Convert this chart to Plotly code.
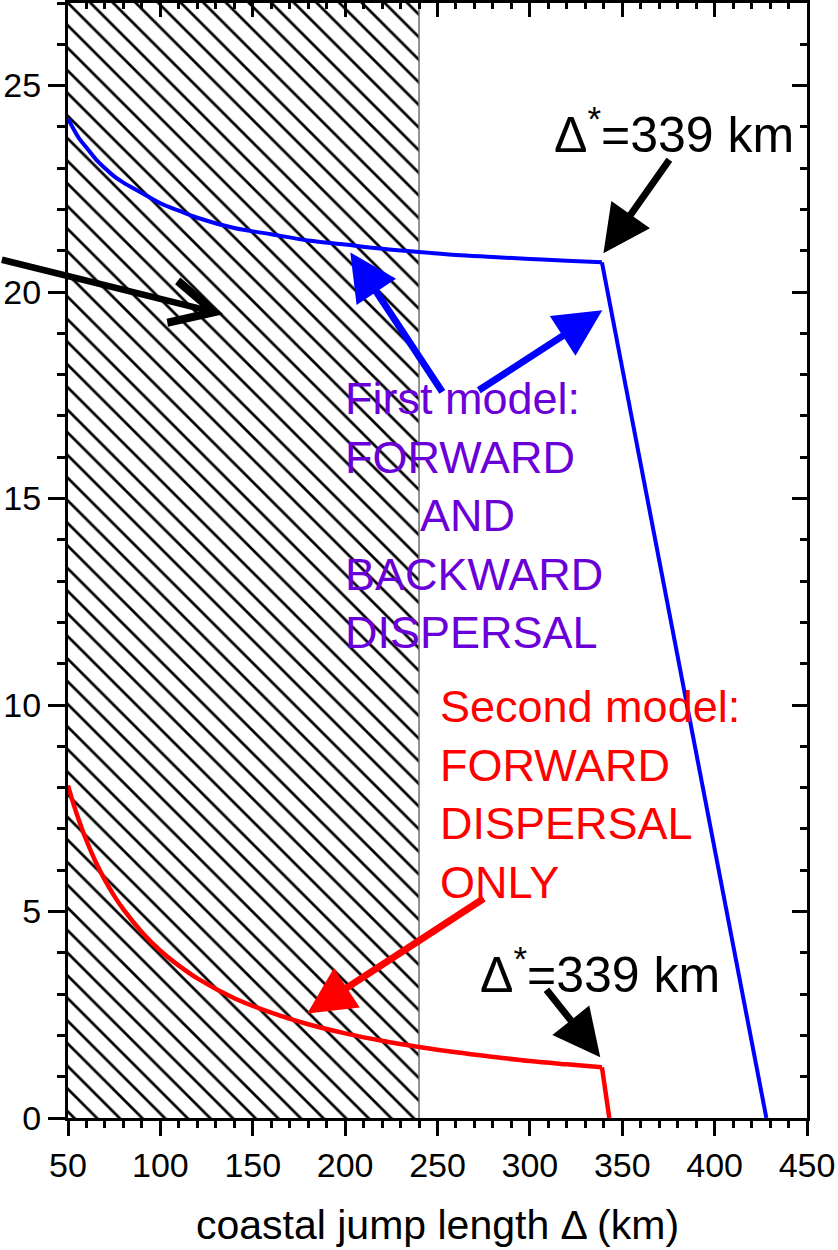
import plotly.graph_objects as go

# ---- data ----
blue_x = [50, 53, 56, 60, 65, 70, 75, 80, 90, 100, 110, 120, 140, 160, 180, 200, 220, 240, 260, 280, 300, 320, 339, 428]
blue_y = [24.2, 23.95, 23.72, 23.5, 23.22, 23.0, 22.8, 22.65, 22.4, 22.15, 21.97, 21.8, 21.55, 21.4, 21.25, 21.15,
          21.05, 20.97, 20.9, 20.85, 20.8, 20.76, 20.72, 0.0]
red_x = [50, 53, 56, 60, 65, 70, 75, 80, 90, 100, 110, 120, 140, 160, 180, 200, 220, 240, 260, 280, 300, 320, 339, 343]
red_y = [8.05, 7.6, 7.2, 6.72, 6.2, 5.76, 5.38, 5.05, 4.5, 4.05, 3.69, 3.38, 2.9, 2.55, 2.27, 2.05, 1.87, 1.72,
         1.59, 1.48, 1.38, 1.3, 1.23, 0.0]
hatch_x = [50, 240]          # excluded (hatched) range of jump lengths
y_top = 27
x_ticks = [50, 100, 150, 200, 250, 300, 350, 400, 450]
y_ticks = [0, 5, 10, 15, 20, 25]

FONT = "Arial, 'Liberation Sans', sans-serif"

fig = go.Figure()

# hatched region
fig.add_trace(go.Scatter(
    x=[hatch_x[0], hatch_x[1], hatch_x[1], hatch_x[0], hatch_x[0]],
    y=[0, 0, y_top, y_top, 0],
    fill="toself", fillcolor="white", mode="lines", line=dict(width=0),
    fillpattern=dict(shape="\\", size=16, solidity=0.17, fgcolor="black", fgopacity=1, bgcolor="white"),
    hoverinfo="skip", showlegend=False))
fig.add_trace(go.Scatter(x=[hatch_x[1], hatch_x[1]], y=[0, y_top], mode="lines",
                         line=dict(color="#707070", width=1.5), showlegend=False, hoverinfo="skip"))

# curves: smooth part + straight drop
fig.add_trace(go.Scatter(x=blue_x[:-1], y=blue_y[:-1], mode="lines", line=dict(color="#0000FF", width=4, shape="spline"),
                         showlegend=False))
fig.add_trace(go.Scatter(x=blue_x[-2:], y=blue_y[-2:], mode="lines", line=dict(color="#0000FF", width=4),
                         showlegend=False))
fig.add_trace(go.Scatter(x=red_x[:-1], y=red_y[:-1], mode="lines", line=dict(color="#FF0000", width=4.5, shape="spline"),
                         showlegend=False))
fig.add_trace(go.Scatter(x=red_x[-2:], y=red_y[-2:], mode="lines", line=dict(color="#FF0000", width=4.5),
                         showlegend=False))
# invisible trace for mirrored axes
fig.add_trace(go.Scatter(x=[x_ticks[0]], y=[0], xaxis="x2", yaxis="y2", mode="markers",
                         marker=dict(opacity=0), showlegend=False, hoverinfo="skip"))

axis_common = dict(showgrid=False, zeroline=False, showline=True, linecolor="black", linewidth=3,
                   tickcolor="black", tickwidth=3)

fig.update_layout(
    width=838, height=1250,
    margin=dict(l=68, r=31, t=3, b=132),
    paper_bgcolor="white", plot_bgcolor="white",
    font=dict(family=FONT, color="black"),
    xaxis=dict(range=[50, 450], tickvals=x_ticks, ticks="outside", ticklen=15,
               tickfont=dict(size=34),
               minor=dict(dtick=10, tick0=50, ticks="outside", ticklen=7, tickwidth=2.5, tickcolor="black"),
               title=dict(text="coastal jump length Δ (km)", font=dict(size=41), standoff=28),
               **axis_common),
    yaxis=dict(range=[0, y_top], tickvals=y_ticks, ticks="outside", ticklen=17,
               tickfont=dict(size=34),
               minor=dict(dtick=1, tick0=0, ticks="outside", ticklen=8, tickwidth=2.5, tickcolor="black"),
               **axis_common),
    xaxis2=dict(range=[50, 450], overlaying="x", side="top", tickvals=x_ticks, ticks="inside",
                ticklen=14, showticklabels=False,
                minor=dict(dtick=10, tick0=50, ticks="inside", ticklen=6, tickwidth=2.5, tickcolor="black"),
                **axis_common),
    yaxis2=dict(range=[0, y_top], overlaying="y", side="right", tickvals=y_ticks, ticks="inside",
                ticklen=15, showticklabels=False,
                minor=dict(dtick=1, tick0=0, ticks="inside", ticklen=7, tickwidth=2.5, tickcolor="black"),
                **axis_common),
)

# text labels
fig.add_annotation(x=199, y=14.6, xref="x", yref="y", xanchor="left", yanchor="middle",
                   align="left", showarrow=False,
                   text="First model:<br>FORWARD<br>" + "\u00a0" * 6 + "AND<br>BACKWARD<br>DISPERSAL",
                   font=dict(size=45, color="#6A00D8", family=FONT))
fig.add_annotation(x=250, y=7.83, xref="x", yref="y", xanchor="left", yanchor="middle",
                   align="left", showarrow=False,
                   text="Second model:<br>FORWARD<br>DISPERSAL<br>ONLY",
                   font=dict(size=45, color="#FF0000", family=FONT))
fig.add_annotation(x=378, y=23.89, xref="x", yref="y", xanchor="center", yanchor="middle",
                   showarrow=False, text="Δ<sup>*</sup>=339 km",
                   font=dict(size=50, color="black", family=FONT))
fig.add_annotation(x=338, y=3.55, xref="x", yref="y", xanchor="center", yanchor="middle",
                   showarrow=False, text="Δ<sup>*</sup>=339 km",
                   font=dict(size=50, color="black", family=FONT))

# arrows (tip in data coords, tail offset in pixels)
arrows = [
    dict(x=134.1, y=19.46, ax=-223, ay=-55, color="black", head=5, width=6.5, size=1.3),
    dict(x=202.8, y=20.96, ax=93, ay=141, color="#0000FF", head=2, width=7, size=1.35),
    dict(x=339.2, y=19.56, ax=-125, ay=81, color="#0000FF", head=2, width=7, size=1.35),
    dict(x=339.8, y=20.94, ax=67, ay=-95, color="black", head=2, width=7, size=1.35),
    dict(x=179.5, y=2.53, ax=178, ay=-116, color="#FF0000", head=2, width=7, size=1.35),
    dict(x=338.1, y=1.47, ax=-55, ay=-69, color="black", head=2, width=7, size=1.35),
]
for a in arrows:
    fig.add_annotation(x=a["x"], y=a["y"], xref="x", yref="y", ax=a["ax"], ay=a["ay"],
                       axref="pixel", ayref="pixel", text="", showarrow=True,
                       arrowhead=a["head"], arrowwidth=a["width"], arrowsize=a["size"],
                       arrowcolor=a["color"])

fig.write_html("out.html", config={"displayModeBar": False},
               post_script="document.body.style.margin='0';document.body.style.overflow='hidden';")
